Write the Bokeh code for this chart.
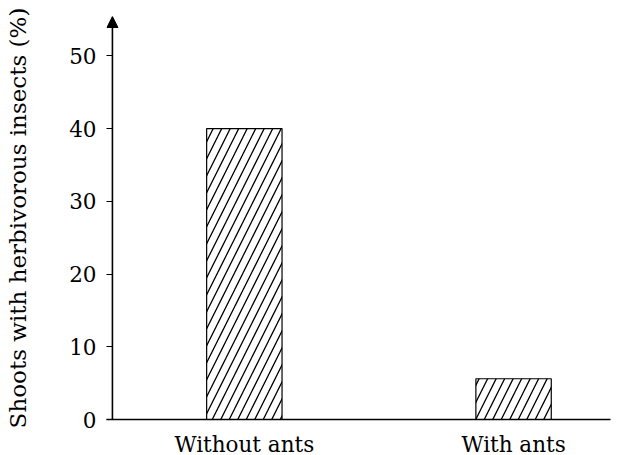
from bokeh.plotting import figure
from bokeh.models import Range1d, Arrow, NormalHead, ColumnDataSource, FixedTicker
from bokeh.embed import file_html
from bokeh.resources import INLINE

categories = ["Without ants", "With ants"]
values = [40, 5.6]
y_ticks = [0, 10, 20, 30, 40, 50]
y_label = "Shoots with herbivorous insects (%)"

FONT = "DejaVu Serif"
X0, X1 = 0.01, 1.86
Y1 = 55.4
XR0 = X0 - 0.022

xpos = [i + 0.5 for i in range(len(categories))]

p = figure(
    x_range=Range1d(XR0, X1),
    y_range=Range1d(0, Y1),
    frame_width=504, frame_height=403,
    min_border_left=106, min_border_right=6, min_border_top=16, min_border_bottom=26,
    output_backend="svg", toolbar_location=None,
)
p.outline_line_color = None
p.xgrid.grid_line_color = None
p.ygrid.grid_line_color = None

src = ColumnDataSource(dict(x=xpos, top=values))
p.vbar(x="x", top="top", width=0.28, source=src,
       fill_color="white", line_color="black", line_width=1.2,
       hatch_pattern="/", hatch_color="black", hatch_scale=17, hatch_weight=1.3)

p.yaxis.ticker = y_ticks
p.yaxis.axis_label = y_label
p.yaxis.axis_label_text_font = FONT
p.yaxis.axis_label_text_font_style = "normal"
p.yaxis.axis_label_text_font_size = "23px"
p.yaxis.axis_label_text_color = "black"
p.yaxis.axis_label_standoff = 35
p.yaxis.major_label_text_font = FONT
p.yaxis.major_label_text_font_size = "21.5px"
p.yaxis.major_label_text_color = "black"
p.yaxis.major_label_standoff = 10
p.yaxis.major_tick_out = 0
p.yaxis.major_tick_in = 6
p.yaxis.minor_tick_line_color = None
p.yaxis.axis_line_color = None
p.yaxis.major_tick_line_width = 1.2
p.yaxis.major_tick_line_color = "black"

p.xaxis.ticker = FixedTicker(ticks=xpos)
p.xaxis.major_label_overrides = {x: c for x, c in zip(xpos, categories)}
p.xaxis.major_tick_line_color = None
p.xaxis.minor_tick_line_color = None
p.xaxis.major_label_text_font = FONT
p.xaxis.major_label_text_font_size = "21.5px"
p.xaxis.major_label_text_color = "black"
p.xaxis.major_label_standoff = 6
p.xaxis.axis_line_width = 1.5
p.xaxis.axis_line_color = "black"

p.add_layout(Arrow(end=NormalHead(size=11, fill_color="black", line_color="black", line_width=1),
                   x_start=X0, y_start=0, x_end=X0, y_end=Y1,
                   line_color="black", line_width=1.6))

open("out.html", "w").write(file_html(p, INLINE))
